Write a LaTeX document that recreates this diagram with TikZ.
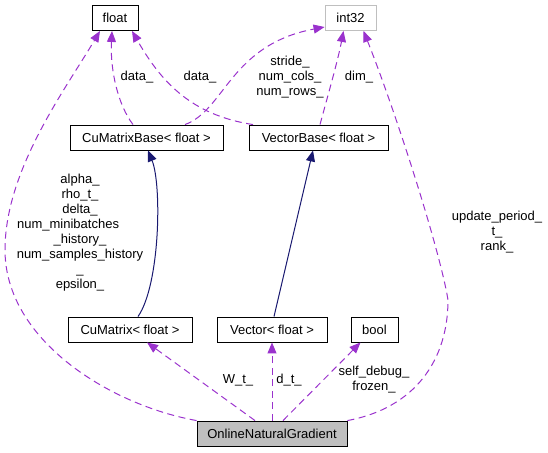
\documentclass[tikz,border=0pt]{standalone}
\usepackage{fontspec}
\setmainfont{Liberation Sans}
\usepackage{xcolor}
\usetikzlibrary{arrows.meta,calc}

\definecolor{member}{HTML}{9A32CD}
\definecolor{inherit}{HTML}{191970}
\definecolor{boxgray}{HTML}{BFBFBF}

\begin{document}
\begin{tikzpicture}[x=1pt, y=-1pt,
    font=\fontsize{13}{15}\selectfont,
    cls/.style={rectangle, draw=black, line width=0.9pt, minimum height=25pt, inner sep=0pt},
    uses/.style={member, line width=1pt, dash pattern=on 7pt off 4.5pt, -{Triangle[length=11pt,width=9pt]}},
    isa/.style={inherit, line width=1pt, -{Triangle[length=11pt,width=9pt]}},
    lbl/.style={align=center, inner sep=0pt}]

    \useasboundingbox (0,0) rectangle (548,452);

    % classes
    \node[cls, minimum width=46pt] (float) at (115,18) {float};
    \node[cls, draw=boxgray, minimum width=51pt] (int32) at (350.5,18) {int32};
    \node[cls, minimum width=153pt] (cmb) at (146.5,137.5) {CuMatrixBase< float >};
    \node[cls, minimum width=139pt] (vb) at (318.5,137.5) {VectorBase< float >};
    \node[cls, minimum width=124pt] (cm) at (130,329.5) {CuMatrix< float >};
    \node[cls, minimum width=110pt] (vec) at (272,329.5) {Vector< float >};
    \node[cls, minimum width=47pt] (bool) at (374.5,329.5) {bool};
    \node[cls, fill=boxgray, minimum width=150pt] (ong) at (272,433.5) {OnlineNaturalGradient};

    % inheritance
    \draw[isa] ([xshift=8pt]cm.north) .. controls (160,285) and (162,185) .. ([xshift=1.5pt]cmb.south);
    \draw[isa] ([xshift=2pt]vec.north) -- ([xshift=-5.5pt]vb.south);

    % members
    \draw[uses] ([xshift=-13.5pt]cmb.north) .. controls (118,105) and (110,70) .. ([xshift=-3pt]float.south);
    \draw[uses] ([xshift=-65.5pt]vb.north) .. controls (190,115) and (160,80) .. ([xshift=17pt]float.south);
    \draw[uses] ([xshift=38.5pt]cmb.north) .. controls (225,110) and (230,45) .. ([yshift=-9pt]int32.west);
    \draw[uses] ([xshift=1.5pt]vb.north) .. controls (328,95) and (338,60) .. ([xshift=-7pt]int32.south);
    \draw[uses] (ong.north west) .. controls (110,405) and (5,340) .. (5,250)
        .. controls (5,170) and (65,90) .. ([xshift=-15pt]float.south);
    \draw[uses] (ong.north east) .. controls (415,408) and (448,360) .. (448,300)
        .. controls (440,250) and (395,110) .. ([xshift=13pt]int32.south);
    \draw[uses] ([xshift=-17pt]ong.north) -- ([xshift=17pt]cm.south);
    \draw[uses] (ong.north) -- (vec.south);
    \draw[uses] ([xshift=11pt]ong.north) -- ([xshift=-14pt]bool.south);

    % labels
    \node[lbl] (lcmbdata) at (137,77) {data\_};
    \node[lbl] (lvbdata) at (200,77) {data\_};
    \node[lbl] (lstride) at (290,77) {stride\_\\num\_cols\_\\num\_rows\_};
    \node[lbl] (ldim) at (359,77) {dim\_};
    \node[lbl] (lalpha) at (80,232.5) {alpha\_\\rho\_t\_\\delta\_\\num\_minibatches\phantom{\_his}\\\_history\_\\num\_samples\_history\\\_\\epsilon\_};
    \node[lbl] (lupdate) at (497,232) {update\_period\_\\t\_\\rank\_};
    \node[lbl] (lw) at (238,380) {W\_t\_};
    \node[lbl] (ld) at (289,380) {d\_t\_};
    \node[lbl] (lself) at (374,380) {self\_debug\_\\frozen\_};
\end{tikzpicture}
\end{document}
